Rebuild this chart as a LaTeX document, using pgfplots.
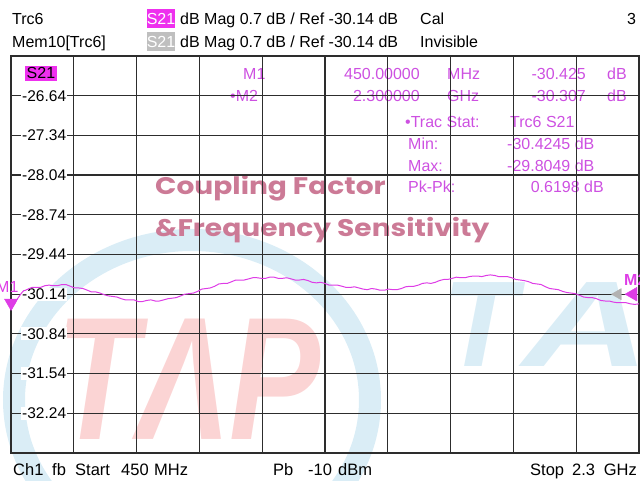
\documentclass[border=0pt]{standalone}
\usepackage{fontspec}
\setmainfont{Liberation Sans}
\newfontfamily\cf{Poppins}
\usepackage{pgfplots}
\pgfplotsset{compat=1.18}
\definecolor{mag}{RGB}{222,60,230}
\definecolor{magtxt}{RGB}{205,80,225}
\definecolor{boxmag}{RGB}{238,48,238}
\definecolor{gridc}{RGB}{45,45,45}
\definecolor{wmred}{RGB}{251,212,212}
\definecolor{wmblue}{RGB}{218,237,246}
\definecolor{cfc}{RGB}{204,122,150}
\newcommand{\fs}{\fontsize{16}{19}\selectfont}
\newcommand{\ff}{\fontsize{16.5}{19}\selectfont}

\pgfplotstableread{
f db
450 -30.42
456 -30.36
462 -30.30
468 -30.23
475 -30.17
481 -30.12
487 -30.08
493 -30.07
500 -30.05
512 -30.02
525 -30.02
537 -30.02
550 -29.99
562 -29.98
575 -29.99
587 -29.99
600 -29.97
612 -29.97
625 -30.00
637 -30.03
650 -30.03
662 -30.04
675 -30.07
687 -30.10
700 -30.10
712 -30.12
725 -30.15
737 -30.17
750 -30.18
762 -30.19
775 -30.22
787 -30.24
800 -30.24
812 -30.24
825 -30.27
837 -30.27
850 -30.25
862 -30.24
875 -30.26
887 -30.26
900 -30.24
912 -30.22
925 -30.21
937 -30.20
950 -30.17
962 -30.14
975 -30.13
987 -30.12
1000 -30.09
1012 -30.05
1025 -30.04
1037 -30.03
1050 -30.00
1062 -29.96
1075 -29.95
1087 -29.95
1100 -29.92
1112 -29.89
1125 -29.89
1137 -29.89
1150 -29.87
1162 -29.85
1175 -29.85
1187 -29.86
1200 -29.86
1212 -29.84
1225 -29.84
1237 -29.86
1250 -29.86
1262 -29.85
1275 -29.87
1287 -29.89
1300 -29.89
1312 -29.88
1325 -29.90
1337 -29.93
1350 -29.94
1362 -29.93
1375 -29.95
1387 -29.98
1400 -29.98
1412 -29.98
1425 -30.00
1437 -30.02
1450 -30.02
1462 -30.01
1475 -30.03
1487 -30.05
1500 -30.06
1512 -30.04
1525 -30.05
1537 -30.07
1550 -30.07
1562 -30.05
1575 -30.06
1587 -30.06
1600 -30.04
1612 -30.01
1625 -30.00
1637 -30.00
1650 -29.98
1662 -29.95
1675 -29.94
1687 -29.95
1700 -29.93
1712 -29.90
1725 -29.88
1737 -29.88
1750 -29.86
1762 -29.84
1775 -29.85
1787 -29.85
1800 -29.83
1812 -29.82
1825 -29.82
1837 -29.83
1850 -29.81
1862 -29.80
1875 -29.81
1887 -29.83
1900 -29.83
1912 -29.83
1925 -29.85
1937 -29.88
1950 -29.89
1962 -29.90
1975 -29.92
1987 -29.95
2000 -29.96
2012 -29.97
2025 -30.01
2037 -30.04
2050 -30.05
2062 -30.06
2075 -30.09
2087 -30.11
2100 -30.12
2112 -30.13
2125 -30.16
2137 -30.19
2150 -30.20
2162 -30.20
2175 -30.22
2187 -30.25
2200 -30.26
2212 -30.26
2225 -30.28
2237 -30.29
2250 -30.29
2262 -30.29
2275 -30.31
2287 -30.32
2300 -30.31
}\trace

\begin{document}
\begin{tikzpicture}[x=1pt,y=1pt]
\useasboundingbox (0,0) rectangle (640,481);
% watermark
\draw[wmblue, line width=22pt] (192,81) ellipse [x radius=178, y radius=160];
\node[anchor=base west, inner sep=0, text=wmred, font=\fontsize{175}{175}\selectfont\bfseries\itshape] at (55,41) {\scalebox{0.78}[1]{TΛP}};
\node[anchor=base west, inner sep=0, text=wmblue, font=\fontsize{122}{122}\selectfont\bfseries\itshape] at (442,114) {T};
\node[anchor=base west, inner sep=0, text=wmblue, font=\fontsize{122}{122}\selectfont\bfseries\itshape] at (522,114) {\scalebox{1.45}[1]{A}};
% title watermark text
\node[anchor=base west, inner sep=0, text=cfc, font=\cf\bfseries\fontsize{24}{26}\selectfont] at (155,286) {\scalebox{1.17}[1]{Coupling Factor}};
\node[anchor=base west, inner sep=0, text=cfc, font=\cf\bfseries\fontsize{24}{26}\selectfont] at (155,244) {\scalebox{1.17}[1]{\&Frequency Sensitivity}};
\begin{scope}[shift={(0,481)}, y=-1pt]
% header
\node[anchor=base west, inner sep=0] at (12,25) {\fs Trc6};
\fill[boxmag] (147,9) rectangle (175,28);
\node[anchor=base, inner sep=0, text=white] at (161,25) {\fs S21};
\node[anchor=base west, inner sep=0] at (180,25) {\fs dB Mag 0.7 dB / Ref -30.14 dB};
\node[anchor=base west, inner sep=0] at (420,25) {\fs Cal};
\node[anchor=base west, inner sep=0] at (627,25) {\fs 3};
\node[anchor=base west, inner sep=0] at (12,48) {\fs Mem10[Trc6]};
\fill[black!25] (147,32) rectangle (175,51);
\node[anchor=base, inner sep=0, text=white] at (161,48) {\fs S21};
\node[anchor=base west, inner sep=0] at (180,48) {\fs dB Mag 0.7 dB / Ref -30.14 dB};
\node[anchor=base west, inner sep=0] at (420,48) {\fs Invisible};
% footer
\node[anchor=base west, inner sep=0] at (13,476) {\ff Ch1};
\node[anchor=base west, inner sep=0] at (52,476) {\ff fb};
\node[anchor=base west, inner sep=0] at (75,476) {\ff Start};
\node[anchor=base west, inner sep=0] at (121,476) {\ff 450};
\node[anchor=base west, inner sep=0] at (154,476) {\ff MHz};
\node[anchor=base west, inner sep=0] at (273,476) {\ff Pb};
\node[anchor=base west, inner sep=0] at (308,476) {\ff -10};
\node[anchor=base west, inner sep=0] at (338,476) {\ff dBm};
\node[anchor=base west, inner sep=0] at (530,476) {\ff Stop};
\node[anchor=base west, inner sep=0] at (572,476) {\ff 2.3};
\node[anchor=base east, inner sep=0] at (637,476) {\ff GHz};
% marker table
\begin{scope}[every node/.style={inner sep=0, text=magtxt, font=\fs}]
\node[anchor=base west] at (243,80) {M1};
\node[anchor=base east] at (420,80) {450.00000};
\node[anchor=base west] at (447,80) {MHz};
\node[anchor=base east] at (586,80) {-30.425};
\node[anchor=base west] at (607,80) {dB};
\node[anchor=base west] at (230,102) {\textbullet M2};
\node[anchor=base east] at (420,102) {2.300000};
\node[anchor=base west] at (447,102) {GHz};
\node[anchor=base east] at (586,102) {-30.307};
\node[anchor=base west] at (607,102) {dB};
\node[anchor=base west] at (405,128) {\textbullet Trac Stat:};
\node[anchor=base west] at (510,128) {Trc6 S21};
\node[anchor=base west] at (408,150) {Min:};
\node[anchor=base west] at (507,150) {-30.4245 dB};
\node[anchor=base west] at (408,172) {Max:};
\node[anchor=base west] at (507,172) {-29.8049 dB};
\node[anchor=base west] at (408,193) {Pk-Pk:};
\node[anchor=base east] at (604,193) {0.6198 dB};
\end{scope}
\end{scope}
\begin{axis}[
  at={(11pt,28pt)}, anchor=south west,
  width=628pt, height=397pt, scale only axis,
  xmin=450, xmax=2300, ymin=-32.94, ymax=-25.94,
  xtick={450,635,820,1005,1190,1375,1560,1745,1930,2115,2300},
  xticklabels={},
  xtick style={draw=none},
  ytick={-32.24,-31.54,-30.84,-30.14,-29.44,-28.74,-28.04,-27.34,-26.64},
  yticklabels={-32.24,-31.54,-30.84,-30.14,-29.44,-28.74,-28.04,-27.34,-26.64},
  ytick pos=left, tick align=inside, major tick length=7pt,
  ytick style={gridc, line width=1.2pt},
  yticklabel style={anchor=west, xshift=10pt, fill=white, inner sep=1pt, font=\fontsize{15.5}{18}\selectfont},
  grid=major, major grid style={gridc, line width=1.2pt},
  axis line style={gridc, line width=1.4pt},
  clip=false,
]
\addplot[mag, line width=1.0pt] table[x=f, y=db] {\trace};
\addplot[only marks, mark=triangle*, mark size=7.5pt, mark options={rotate=180, fill=mag, draw=mag, yshift=-7.5pt}] coordinates {(450,-30.425)};
\addplot[only marks, mark=triangle*, mark size=6.5pt, mark options={rotate=90, fill=black!30, draw=black!30, yshift=21pt}] coordinates {(2300,-30.14)};
\addplot[only marks, mark=triangle*, mark size=8pt, mark options={rotate=90, fill=mag, draw=mag, yshift=6pt}] coordinates {(2300,-30.14)};
\node[anchor=base west, inner sep=0, text=mag, font=\fs] at (axis cs:450,-30.425) [xshift=-15pt, yshift=18pt] {M1};
\node[anchor=base west, inner sep=0, text=mag, font=\fs\bfseries] at (axis cs:2300,-30.14) [xshift=-15pt, yshift=9pt] {M2};
\node[anchor=north west, fill=boxmag, inner sep=1.5pt, font=\fs] at (axis cs:450,-25.94) [xshift=14pt, yshift=-10pt] {S21};
\end{axis}
\end{tikzpicture}
\end{document}
